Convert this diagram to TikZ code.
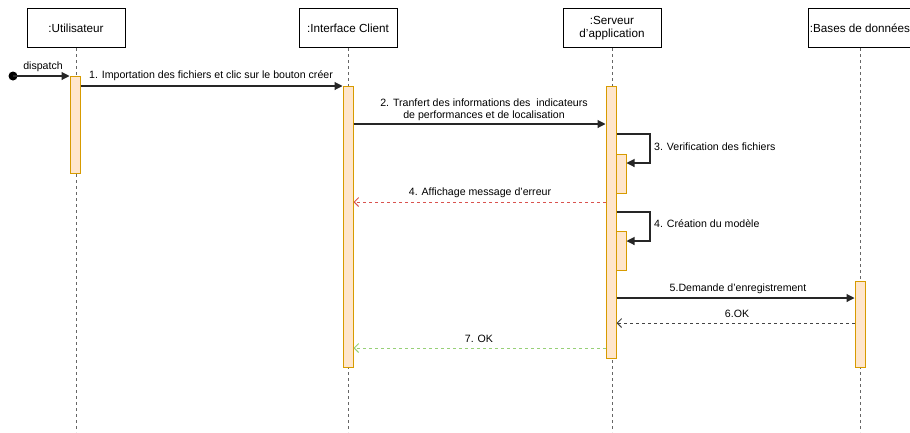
\documentclass[tikz,border=0pt]{standalone}
\usepackage{fontspec}
\setmainfont{Liberation Sans}
\usetikzlibrary{arrows.meta}
\newcommand\apos{\char39\relax}
\definecolor{barfill}{HTML}{FFE6CC}
\definecolor{barline}{HTML}{D79B00}
\definecolor{errred}{HTML}{D9534F}
\definecolor{okgreen}{HTML}{97D077}
\definecolor{retgray}{HTML}{444444}
\tikzset{
  x=1pt, y=-1pt,
  actor/.style={draw=black, line width=1pt, fill=white, minimum width=98pt,
    minimum height=39pt, anchor=north, align=center, inner sep=1pt,
    font=\fontsize{11.7}{13.5}\selectfont},
  lifeline/.style={draw=gray!80!black, line width=0.9pt, dash pattern=on 3pt off 3pt},
  bar/.style={draw=barline, fill=barfill, line width=1pt, minimum width=10pt,
    inner sep=0pt, anchor=north},
  msg/.style={draw=black!85, line width=1.1pt, -{Triangle[length=8pt,width=8pt]}},
  ret/.style={line width=0.9pt, dash pattern=on 3pt off 3pt,
    -{Straight Barb[length=4.5pt,width=9pt]}},
  lbl/.style={font=\fontsize{10.6}{12}\selectfont, inner sep=0pt, align=center},
}
\begin{document}
\begin{tikzpicture}
\useasboundingbox (0,0) rectangle (910,432);
\clip (0,0) rectangle (910,432);

% participants
\node[actor] (user) at (76,8) {:Utilisateur};
\node[actor] (client) at (348,8) {:Interface Client};
\node[actor] (server) at (612,8) {:Serveur\\d\apos application};
\node[actor, minimum width=104pt] (db) at (860,8) {:Bases de données};

% lifelines
\coordinate (userEnd) at (76,432);
\coordinate (clientEnd) at (348,432);
\coordinate (serverEnd) at (612,432);
\coordinate (dbEnd) at (860,432);
\draw[lifeline] (user.south) -- (userEnd);
\draw[lifeline] (client.south) -- (clientEnd);
\draw[lifeline] (server.south) -- (serverEnd);
\draw[lifeline] (db.south) -- (dbEnd);

% activation bars
\node[bar, minimum height=97pt] (ubar) at (75,76) {};
\node[bar, minimum height=281pt] (cbar) at (348,86) {};
\node[bar, minimum height=272pt] (sbar) at (611,86) {};
\node[bar, minimum height=39pt] (sbarA) at (621,154) {};
\node[bar, minimum height=39pt] (sbarB) at (621,231) {};
\node[bar, minimum height=86pt] (dbar) at (860,281) {};

% found message
\node[circle, fill=black, inner sep=0pt, minimum size=9pt] (start) at (13,76) {};
\draw[msg] (start.center) -- (ubar.north west);
\node[lbl] (lDispatch) at (43,67) {dispatch};

% 1
\draw[msg] (ubar.east |- 0,86) -- (cbar.west |- 0,86);
\node[lbl] (l1) at (211,76) {1. Importation des fichiers et clic sur le bouton créer};

% 2
\draw[msg] (cbar.east |- 0,124) -- (sbar.west |- 0,124);
\node[lbl] (l2) at (484,110) {2. Tranfert des informations des\ \ indicateurs\\de performances et de localisation};

% 3 self call
\coordinate (s3a) at (650,134);
\coordinate (s3b) at (650,163);
\draw[msg] (sbar.east |- 0,134) -- (s3a) -- (s3b) -- (sbarA.east |- s3b);
\node[lbl, anchor=west] (l3) at (654,147) {3. Verification des fichiers};

% 4 error
\draw[ret, draw=errred] (sbar.west |- 0,202) -- (cbar.east |- 0,202);
\node[lbl] (l4) at (480,193) {4. Affichage message d\apos erreur};

% 4 self call
\coordinate (s4a) at (650,212);
\coordinate (s4b) at (650,241);
\draw[msg] (sbar.east |- 0,212) -- (s4a) -- (s4b) -- (sbarB.east |- s4b);
\node[lbl, anchor=west] (l4b) at (654,224) {4. Création du modèle};

% 5
\draw[msg] (sbar.east |- 0,298) -- (dbar.west |- 0,298);
\node[lbl] (l5) at (738,289) {5.Demande d\apos enregistrement};

% 6
\draw[ret, draw=retgray] (dbar.west |- 0,323) -- (sbar.east |- 0,323);
\node[lbl] (l6) at (737,314) {6.OK};

% 7
\draw[ret, draw=okgreen] (sbar.west |- 0,348) -- (cbar.east |- 0,348);
\node[lbl] (l7) at (479,339) {7. OK};
\end{tikzpicture}
\end{document}
